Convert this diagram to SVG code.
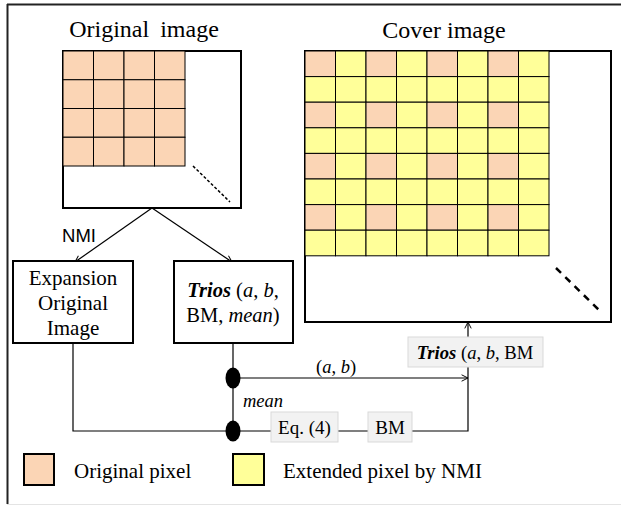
<svg xmlns="http://www.w3.org/2000/svg" width="621" height="506" viewBox="0 0 621 506">
<defs>
<style>
.serif{font-family:"Liberation Serif","Times New Roman",serif;fill:#000}
.sans{font-family:"Liberation Sans",Arial,sans-serif;fill:#000}
.box{fill:#fff;stroke:#000;stroke-width:2}
.cell-o{fill:#FBD5B5;stroke:#000;stroke-width:1}
.cell-e{fill:#FFFF99;stroke:#000;stroke-width:1}
.lbl{fill:#F2F2F2;stroke:#D9D9D9;stroke-width:1}
.conn{fill:none;stroke:#000;stroke-width:1.2}
</style>
<marker id="arr" viewBox="0 0 10 10" refX="9" refY="5" markerWidth="8" markerHeight="8" orient="auto" markerUnits="userSpaceOnUse">
<path d="M1,1 L9,5 L1,9" fill="none" stroke="#000" stroke-width="1.2"/>
</marker>
</defs>
<rect width="621" height="506" fill="#fff"/>
<g id="frame">
<line x1="7" y1="4.5" x2="621" y2="4.5" stroke="#222" stroke-width="2"/>
<line x1="7.5" y1="4" x2="7.5" y2="504" stroke="#222" stroke-width="2"/>
<line x1="7" y1="504.5" x2="621" y2="504.5" stroke="#e4e4e4" stroke-width="1"/>
</g>
<g id="original-image">
<text class="serif" x="144" y="37" font-size="24" word-spacing="5" text-anchor="middle">Original image</text>
<rect class="box" x="63" y="51" width="178" height="157" stroke-width="1.5"/>
<g>
<rect class="cell-o" x="63" y="51" width="30.5" height="28.75"/><rect class="cell-o" x="93.5" y="51" width="30.5" height="28.75"/><rect class="cell-o" x="124" y="51" width="30.5" height="28.75"/><rect class="cell-o" x="154.5" y="51" width="30.5" height="28.75"/>
<rect class="cell-o" x="63" y="79.75" width="30.5" height="28.75"/><rect class="cell-o" x="93.5" y="79.75" width="30.5" height="28.75"/><rect class="cell-o" x="124" y="79.75" width="30.5" height="28.75"/><rect class="cell-o" x="154.5" y="79.75" width="30.5" height="28.75"/>
<rect class="cell-o" x="63" y="108.5" width="30.5" height="28.75"/><rect class="cell-o" x="93.5" y="108.5" width="30.5" height="28.75"/><rect class="cell-o" x="124" y="108.5" width="30.5" height="28.75"/><rect class="cell-o" x="154.5" y="108.5" width="30.5" height="28.75"/>
<rect class="cell-o" x="63" y="137.25" width="30.5" height="28.75"/><rect class="cell-o" x="93.5" y="137.25" width="30.5" height="28.75"/><rect class="cell-o" x="124" y="137.25" width="30.5" height="28.75"/><rect class="cell-o" x="154.5" y="137.25" width="30.5" height="28.75"/>
</g>
<line x1="193" y1="166" x2="230" y2="202" stroke="#000" stroke-width="1.5" stroke-dasharray="3,2"/>
</g>
<g id="cover-image">
<text class="serif" x="444" y="38" font-size="24" text-anchor="middle">Cover image</text>
<rect class="box" x="305" y="51" width="306" height="271" stroke-width="1.5"/>
<g id="cover-grid">
<rect class="cell-o" x="305" y="51" width="30.5" height="25.6"/><rect class="cell-e" x="335.5" y="51" width="30.5" height="25.6"/><rect class="cell-o" x="366" y="51" width="30.5" height="25.6"/><rect class="cell-e" x="396.5" y="51" width="30.5" height="25.6"/><rect class="cell-o" x="427" y="51" width="30.5" height="25.6"/><rect class="cell-e" x="457.5" y="51" width="30.5" height="25.6"/><rect class="cell-o" x="488" y="51" width="30.5" height="25.6"/><rect class="cell-e" x="518.5" y="51" width="30.5" height="25.6"/>
<rect class="cell-e" x="305" y="76.6" width="30.5" height="25.6"/><rect class="cell-e" x="335.5" y="76.6" width="30.5" height="25.6"/><rect class="cell-e" x="366" y="76.6" width="30.5" height="25.6"/><rect class="cell-e" x="396.5" y="76.6" width="30.5" height="25.6"/><rect class="cell-e" x="427" y="76.6" width="30.5" height="25.6"/><rect class="cell-e" x="457.5" y="76.6" width="30.5" height="25.6"/><rect class="cell-e" x="488" y="76.6" width="30.5" height="25.6"/><rect class="cell-e" x="518.5" y="76.6" width="30.5" height="25.6"/>
<rect class="cell-o" x="305" y="102.2" width="30.5" height="25.6"/><rect class="cell-e" x="335.5" y="102.2" width="30.5" height="25.6"/><rect class="cell-o" x="366" y="102.2" width="30.5" height="25.6"/><rect class="cell-e" x="396.5" y="102.2" width="30.5" height="25.6"/><rect class="cell-o" x="427" y="102.2" width="30.5" height="25.6"/><rect class="cell-e" x="457.5" y="102.2" width="30.5" height="25.6"/><rect class="cell-o" x="488" y="102.2" width="30.5" height="25.6"/><rect class="cell-e" x="518.5" y="102.2" width="30.5" height="25.6"/>
<rect class="cell-e" x="305" y="127.8" width="30.5" height="25.6"/><rect class="cell-e" x="335.5" y="127.8" width="30.5" height="25.6"/><rect class="cell-e" x="366" y="127.8" width="30.5" height="25.6"/><rect class="cell-e" x="396.5" y="127.8" width="30.5" height="25.6"/><rect class="cell-e" x="427" y="127.8" width="30.5" height="25.6"/><rect class="cell-e" x="457.5" y="127.8" width="30.5" height="25.6"/><rect class="cell-e" x="488" y="127.8" width="30.5" height="25.6"/><rect class="cell-e" x="518.5" y="127.8" width="30.5" height="25.6"/>
<rect class="cell-o" x="305" y="153.4" width="30.5" height="25.6"/><rect class="cell-e" x="335.5" y="153.4" width="30.5" height="25.6"/><rect class="cell-o" x="366" y="153.4" width="30.5" height="25.6"/><rect class="cell-e" x="396.5" y="153.4" width="30.5" height="25.6"/><rect class="cell-o" x="427" y="153.4" width="30.5" height="25.6"/><rect class="cell-e" x="457.5" y="153.4" width="30.5" height="25.6"/><rect class="cell-o" x="488" y="153.4" width="30.5" height="25.6"/><rect class="cell-e" x="518.5" y="153.4" width="30.5" height="25.6"/>
<rect class="cell-e" x="305" y="179" width="30.5" height="25.6"/><rect class="cell-e" x="335.5" y="179" width="30.5" height="25.6"/><rect class="cell-e" x="366" y="179" width="30.5" height="25.6"/><rect class="cell-e" x="396.5" y="179" width="30.5" height="25.6"/><rect class="cell-e" x="427" y="179" width="30.5" height="25.6"/><rect class="cell-e" x="457.5" y="179" width="30.5" height="25.6"/><rect class="cell-e" x="488" y="179" width="30.5" height="25.6"/><rect class="cell-e" x="518.5" y="179" width="30.5" height="25.6"/>
<rect class="cell-o" x="305" y="204.6" width="30.5" height="25.6"/><rect class="cell-e" x="335.5" y="204.6" width="30.5" height="25.6"/><rect class="cell-o" x="366" y="204.6" width="30.5" height="25.6"/><rect class="cell-e" x="396.5" y="204.6" width="30.5" height="25.6"/><rect class="cell-o" x="427" y="204.6" width="30.5" height="25.6"/><rect class="cell-e" x="457.5" y="204.6" width="30.5" height="25.6"/><rect class="cell-o" x="488" y="204.6" width="30.5" height="25.6"/><rect class="cell-e" x="518.5" y="204.6" width="30.5" height="25.6"/>
<rect class="cell-e" x="305" y="230.2" width="30.5" height="25.6"/><rect class="cell-e" x="335.5" y="230.2" width="30.5" height="25.6"/><rect class="cell-e" x="366" y="230.2" width="30.5" height="25.6"/><rect class="cell-e" x="396.5" y="230.2" width="30.5" height="25.6"/><rect class="cell-e" x="427" y="230.2" width="30.5" height="25.6"/><rect class="cell-e" x="457.5" y="230.2" width="30.5" height="25.6"/><rect class="cell-e" x="488" y="230.2" width="30.5" height="25.6"/><rect class="cell-e" x="518.5" y="230.2" width="30.5" height="25.6"/>
</g>
<line x1="556" y1="268" x2="601" y2="312" stroke="#000" stroke-width="2.5" stroke-dasharray="7,6"/>
</g>
<g id="connectors">
<line class="conn" x1="152" y1="208" x2="75" y2="262" marker-end="url(#arr)"/>
<line class="conn" x1="152" y1="208" x2="232" y2="262" marker-end="url(#arr)"/>
<line class="conn" x1="233" y1="343" x2="233" y2="378"/>
<line class="conn" x1="233" y1="378" x2="233" y2="430" marker-end="url(#arr)"/>
<line class="conn" x1="233" y1="378" x2="468" y2="378" marker-end="url(#arr)"/>
<polyline class="conn" points="73,343 73,431 468,431 468,322" marker-end="url(#arr)"/>
<ellipse cx="233" cy="378" rx="7.5" ry="10.5" fill="#000"/>
<ellipse cx="233" cy="431" rx="7.5" ry="10.5" fill="#000"/>
<text class="sans" x="79" y="242" font-size="18.5" text-anchor="middle">NMI</text>
<text class="serif" x="336" y="373" font-size="18.5" text-anchor="middle">(<tspan font-style="italic">a</tspan>, <tspan font-style="italic">b</tspan>)</text>
<text class="serif" x="243" y="407" font-size="18.5" font-style="italic">mean</text>
</g>
<g id="expansion">
<rect class="box" x="13" y="261" width="120" height="82"/>
<text class="serif" font-size="21" text-anchor="middle"><tspan x="73" y="285">Expansion</tspan><tspan x="73" y="310">Original</tspan><tspan x="73" y="335">Image</tspan></text>
</g>
<g id="trios">
<rect class="box" x="174" y="261" width="119" height="82"/>
<text class="serif" font-size="20.5" text-anchor="middle"><tspan x="233" y="297"><tspan font-weight="bold" font-style="italic">Trios</tspan> (<tspan font-style="italic">a</tspan>, <tspan font-style="italic">b</tspan>,</tspan><tspan x="233" y="322">BM, <tspan font-style="italic">mean</tspan>)</tspan></text>
</g>
<g id="trios-bm">
<rect class="lbl" x="408" y="337" width="135" height="30"/>
<text class="serif" x="475" y="359" font-size="18.6" text-anchor="middle"><tspan font-weight="bold" font-style="italic">Trios</tspan> (<tspan font-style="italic">a</tspan>, <tspan font-style="italic">b</tspan>, BM</text>
</g>
<g id="eq4">
<rect class="lbl" x="271" y="412" width="67" height="30"/>
<text class="serif" x="304.5" y="434" font-size="19" text-anchor="middle">Eq. (4)</text>
</g>
<g id="bm">
<rect class="lbl" x="368" y="412" width="44" height="30"/>
<text class="serif" x="390" y="434" font-size="19" text-anchor="middle">BM</text>
</g>
<g id="legend">
<rect x="24" y="454" width="30" height="31" fill="#FBD5B5" stroke="#000" stroke-width="2"/>
<text class="serif" x="74" y="478" font-size="21">Original pixel</text>
<rect x="233" y="454" width="31" height="31" fill="#FFFF99" stroke="#000" stroke-width="2"/>
<text class="serif" x="283" y="478" font-size="21">Extended pixel by NMI</text>
</g>
</svg>
